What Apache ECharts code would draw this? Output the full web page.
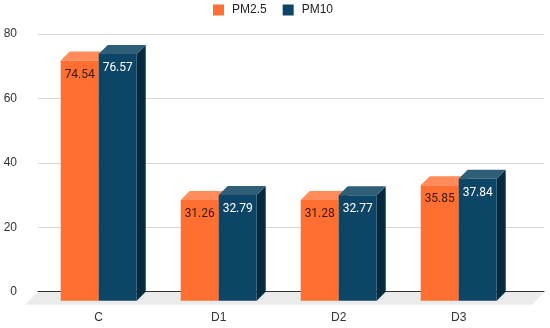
<!DOCTYPE html>
<html>
<head>
<meta charset="utf-8">
<script src="https://cdn.jsdelivr.net/npm/echarts@6/dist/echarts.min.js"></script>
<style>html,body{margin:0;padding:0;background:#fff;}#c{width:550px;height:328px;}</style>
</head>
<body>
<div id="c"></div>
<script>
var categories = ['C', 'D1', 'D2', 'D3'];
var seriesNames = ['PM2.5', 'PM10'];
var pm25 = [74.54, 31.26, 31.28, 35.85];
var pm10 = [76.57, 32.79, 32.77, 37.84];
var yMin = 0, yMax = 80, yInterval = 20;

var DEPTH = 9;
var palette = [
  {front: '#ff6f31', top: '#ff8c5a', side: '#d4561f', label: '#3a160a'},
  {front: '#0c4566', top: '#2f5e79', side: '#062a3d', label: '#ffffff'}
];

function barRender(si) {
  return function (params, api) {
    var cat = api.value(0), val = api.value(1);
    var base = api.coord([cat, 0]);
    var top = api.coord([cat, val]);
    var band = api.size([1, 0])[0];
    var bw = band * 0.3167;
    var x0 = base[0] - bw + si * bw, x1 = x0 + bw;
    var yb = base[1], yt = top[1], d = DEPTH;
    var c = palette[si];
    return {
      type: 'group',
      children: [
        {type: 'polygon', shape: {points: [[x1, yt], [x1 + d, yt - d], [x1 + d, yb - d], [x1, yb]]}, style: {fill: c.side}},
        {type: 'polygon', shape: {points: [[x0, yt], [x1, yt], [x1 + d, yt - d], [x0 + d, yt - d]]}, style: {fill: c.top}},
        {type: 'rect', shape: {x: x0, y: yt, width: bw, height: yb - yt}, style: {fill: c.front}},
        {type: 'text', style: {text: val.toFixed(2), x: (x0 + x1) / 2, y: yt + 14, align: 'center', verticalAlign: 'middle', fill: c.label, font: '12px Roboto'}}
      ]
    };
  };
}

function floorRender(params, api) {
  var cs = params.coordSys;
  var yb = cs.y + cs.height;
  var f = 13;
  return {
    type: 'polygon',
    shape: {points: [[cs.x, yb], [cs.x + cs.width + 1, yb], [cs.x + cs.width + 1 - f, yb + f], [cs.x - f, yb + f]]},
    style: {fill: '#ebebeb'}
  };
}

var chart = echarts.init(document.getElementById('c'), null, {renderer: 'canvas'});
chart.setOption({
  animation: false,
  backgroundColor: '#ffffff',
  legend: {
    data: seriesNames, left: 213, top: 4, padding: 0, itemWidth: 11, itemHeight: 11, itemGap: 16, icon: 'rect',
    textStyle: {fontSize: 12, color: '#222', fontFamily: 'Liberation Sans', padding: [0, 0, 0, 3]}
  },
  grid: [
    {left: 38, right: 6, top: 34, bottom: 36.3},
    {left: 38.7, width: 480, top: 43, bottom: 27.3}
  ],
  xAxis: [
    {gridIndex: 0, type: 'category', data: categories, axisLine: {show: true, lineStyle: {color: '#333', width: 1}}, axisTick: {show: false}, axisLabel: {show: false}, splitLine: {show: false}},
    {gridIndex: 1, type: 'category', data: categories, axisLine: {show: false}, axisTick: {show: false},
      axisLabel: {margin: 11, fontSize: 12, color: '#333', fontFamily: 'Liberation Sans'}}
  ],
  yAxis: [
    {gridIndex: 0, type: 'value', min: yMin, max: yMax, interval: yInterval, axisLine: {show: false}, axisTick: {show: false},
      axisLabel: {margin: 21, fontSize: 12, color: '#333', fontFamily: 'Liberation Sans'},
      splitLine: {lineStyle: {color: '#d6d6d6', width: 1}}},
    {gridIndex: 1, type: 'value', min: yMin, max: yMax, interval: yInterval, show: false}
  ],
  series: [
    {type: 'custom', name: 'floor', xAxisIndex: 0, yAxisIndex: 0, z: -1, silent: true, data: [[0, 0]], renderItem: floorRender},
    {type: 'custom', name: seriesNames[0], xAxisIndex: 1, yAxisIndex: 1, itemStyle: {color: palette[0].front},
      encode: {x: 0, y: 1}, data: pm25.map(function (v, i) { return [i, v]; }), renderItem: barRender(0)},
    {type: 'custom', name: seriesNames[1], xAxisIndex: 1, yAxisIndex: 1, itemStyle: {color: palette[1].front},
      encode: {x: 0, y: 1}, data: pm10.map(function (v, i) { return [i, v]; }), renderItem: barRender(1)}
  ]
});
</script>
</body>
</html>
